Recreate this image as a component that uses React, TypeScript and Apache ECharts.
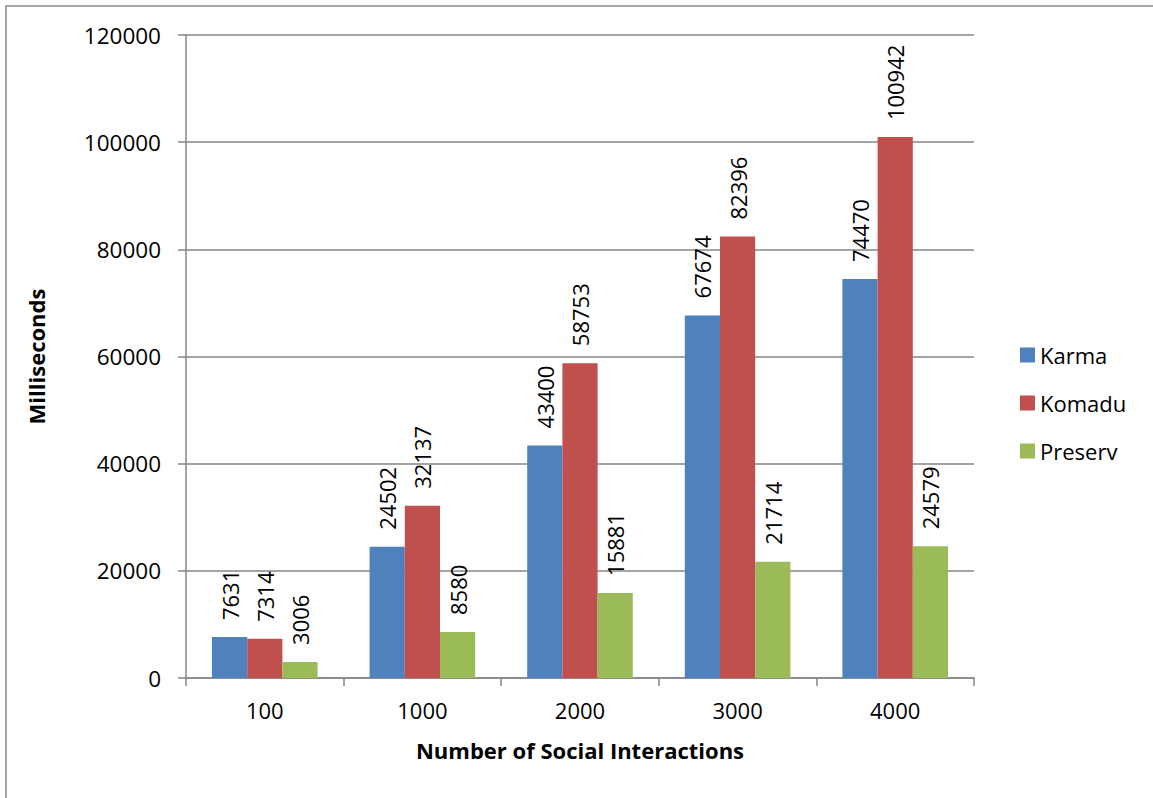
import React, { useEffect, useRef } from "react";
import * as echarts from "echarts";

const categories = ["100", "1000", "2000", "3000", "4000"];
const karma = [7631, 24502, 43400, 67674, 74470];
const komadu = [7314, 32137, 58753, 82396, 100942];
const preserv = [3006, 8580, 15881, 21714, 24579];
const seriesNames = ["Karma", "Komadu", "Preserv"];
const colors = ["#4F81BD", "#C0504D", "#9BBB59"];

const FONT = "'Open Sans', sans-serif";

export default function App() {
  const ref = useRef<HTMLDivElement>(null);
  useEffect(() => {
    document.body.style.margin = "0";
    const chart = echarts.init(ref.current!, null, { renderer: "svg" });
    const label = {
      show: true,
      position: "top",
      rotate: 90,
      align: "left",
      verticalAlign: "middle",
      distance: 17,
      fontSize: 22,
      fontFamily: FONT,
      color: "#000",
    };
    const data = [karma, komadu, preserv];
    chart.setOption({
      animation: false,
      textStyle: { fontFamily: FONT },
      graphic: [
        {
          type: "rect",
          shape: { x: 6, y: 6, width: 1200, height: 900 },
          style: { fill: "none", stroke: "#8a8a8a", lineWidth: 1.5 },
          silent: true,
        },
      ],
      grid: { left: 186, right: 179, top: 35, bottom: 120, containLabel: false },
      legend: {
        orient: "vertical",
        left: 1015,
        top: 339,
        itemWidth: 15,
        itemHeight: 15,
        itemGap: 26,
        icon: "rect",
        textStyle: { fontSize: 22, fontFamily: FONT, color: "#000" },
        data: seriesNames,
      },
      xAxis: {
        type: "category",
        data: categories,
        name: "Number of Social Interactions",
        nameLocation: "middle",
        nameGap: 61,
        nameTextStyle: { fontSize: 22, fontWeight: "bold", fontFamily: FONT, color: "#000" },
        axisLine: { lineStyle: { color: "#868686", width: 1.5 } },
        axisTick: { show: true, length: 8, lineStyle: { color: "#868686", width: 1.5 } },
        axisLabel: { fontSize: 22, fontFamily: FONT, color: "#000", margin: 21 },
      },
      yAxis: {
        type: "value",
        min: 0,
        max: 120000,
        interval: 20000,
        name: "Milliseconds",
        nameLocation: "middle",
        nameGap: 139,
        nameTextStyle: { fontSize: 22, fontWeight: "bold", fontFamily: FONT, color: "#000" },
        axisLine: { show: true, lineStyle: { color: "#868686", width: 1.5 } },
        axisTick: { show: true, length: 8, lineStyle: { color: "#868686", width: 1.5 } },
        axisLabel: {
          fontSize: 22.5,
          fontFamily: FONT,
          color: "#000",
          margin: 25,
          formatter: (v: number) => String(v),
        },
        splitLine: { show: true, lineStyle: { color: "#868686", width: 1.5 } },
      },
      series: seriesNames.map((name, i) => ({
        name,
        type: "bar",
        data: data[i],
        barGap: "0%",
        barCategoryGap: "33%",
        itemStyle: { color: colors[i] },
        label,
      })),
    });
    return () => chart.dispose();
  }, []);
  return <div ref={ref} style={{ width: 1153, height: 798 }} />;
}
